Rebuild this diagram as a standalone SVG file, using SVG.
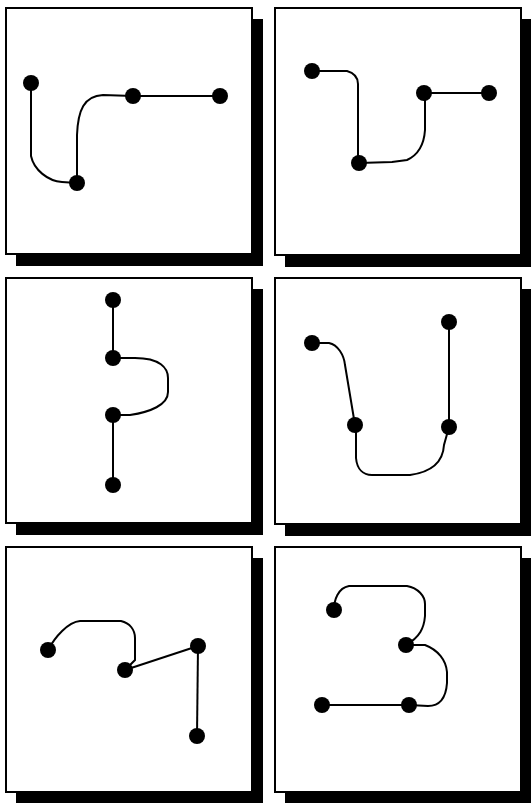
<svg xmlns="http://www.w3.org/2000/svg" width="532" height="803" viewBox="0 0 532 803">
<style>
.shadow{fill:#000}
.box{fill:#fff;stroke:#000;stroke-width:2}
.edge{fill:none;stroke:#000;stroke-width:2}
.node{fill:#000}
</style>
<rect width="532" height="803" fill="#fff"/>
<g id="panels">
<g id="panel1"><rect class="shadow" x="16" y="19" width="247" height="247"/><rect class="box" x="6" y="8" width="246" height="246"/></g>
<g id="panel2"><rect class="shadow" x="285" y="19" width="246" height="248"/><rect class="box" x="275" y="8" width="246" height="247"/></g>
<g id="panel3"><rect class="shadow" x="16" y="289" width="247" height="246"/><rect class="box" x="6" y="278" width="246" height="245"/></g>
<g id="panel4"><rect class="shadow" x="285" y="289" width="246" height="247"/><rect class="box" x="275" y="278" width="246" height="246"/></g>
<g id="panel5"><rect class="shadow" x="16" y="558" width="247" height="245"/><rect class="box" x="6" y="547" width="246" height="245"/></g>
<g id="panel6"><rect class="shadow" x="285" y="558" width="246" height="245"/><rect class="box" x="275" y="547" width="246" height="245"/></g>
</g>
<g id="connectors">
<path class="edge" d="M31,83 V156 C34,170 48,181 62,182 L77,183"/>
<path class="edge" d="M77,183 V135 C78,110 84,96 103,95 L133,96"/>
<path class="edge" d="M133,96 H220"/>
<path class="edge" d="M312,71 H347 C354,73 358,78 358,84 V163"/>
<path class="edge" d="M359,163 L392,162 L407,160 C418,155 424,145 425,130 V93"/>
<path class="edge" d="M424,93 H489"/>
<path class="edge" d="M113,300 V358"/>
<path class="edge" d="M113,358 H135 C160,358 168,368 168,378 V392 C168,405 150,412 130,415 H113"/>
<path class="edge" d="M113,415 V485"/>
<path class="edge" d="M312,343 H329 C338,345 344,355 345,365 L355,425"/>
<path class="edge" d="M356,425 V458 C357,469 363,475 372,475 H410 C432,472 443,462 444,445 L449,427"/>
<path class="edge" d="M449,322 V427"/>
<path class="edge" d="M48,650 C55,637 68,622 80,621 H121 C130,623 135,630 135,638 V660 L125,670"/>
<path class="edge" d="M125,670 L198,646"/>
<path class="edge" d="M198,646 L197,736"/>
<path class="edge" d="M334,610 C334,600 338,588 349,586 H407 C418,588 425,596 425,604 V616 C424,628 420,637 406,645"/>
<path class="edge" d="M406,645 H425 C438,650 446,660 447,672 V683 C446,697 440,706 428,706 L409,705"/>
<path class="edge" d="M322,705 H409"/>
</g>
<g id="nodes">
<circle id="n1a" class="node" cx="31" cy="83" r="8"/>
<circle id="n1b" class="node" cx="77" cy="183" r="8"/>
<circle id="n1c" class="node" cx="133" cy="96" r="8"/>
<circle id="n1d" class="node" cx="220" cy="96" r="8"/>
<circle id="n2a" class="node" cx="312" cy="71" r="8"/>
<circle id="n2b" class="node" cx="359" cy="163" r="8"/>
<circle id="n2c" class="node" cx="424" cy="93" r="8"/>
<circle id="n2d" class="node" cx="489" cy="93" r="8"/>
<circle id="n3a" class="node" cx="113" cy="300" r="8"/>
<circle id="n3b" class="node" cx="113" cy="358" r="8"/>
<circle id="n3c" class="node" cx="113" cy="415" r="8"/>
<circle id="n3d" class="node" cx="113" cy="485" r="8"/>
<circle id="n4a" class="node" cx="312" cy="343" r="8"/>
<circle id="n4b" class="node" cx="355" cy="425" r="8"/>
<circle id="n4c" class="node" cx="449" cy="322" r="8"/>
<circle id="n4d" class="node" cx="449" cy="427" r="8"/>
<circle id="n5a" class="node" cx="48" cy="650" r="8"/>
<circle id="n5b" class="node" cx="125" cy="670" r="8"/>
<circle id="n5c" class="node" cx="198" cy="646" r="8"/>
<circle id="n5d" class="node" cx="197" cy="736" r="8"/>
<circle id="n6a" class="node" cx="334" cy="610" r="8"/>
<circle id="n6b" class="node" cx="406" cy="645" r="8"/>
<circle id="n6c" class="node" cx="322" cy="705" r="8"/>
<circle id="n6d" class="node" cx="409" cy="705" r="8"/>
</g>
</svg>
